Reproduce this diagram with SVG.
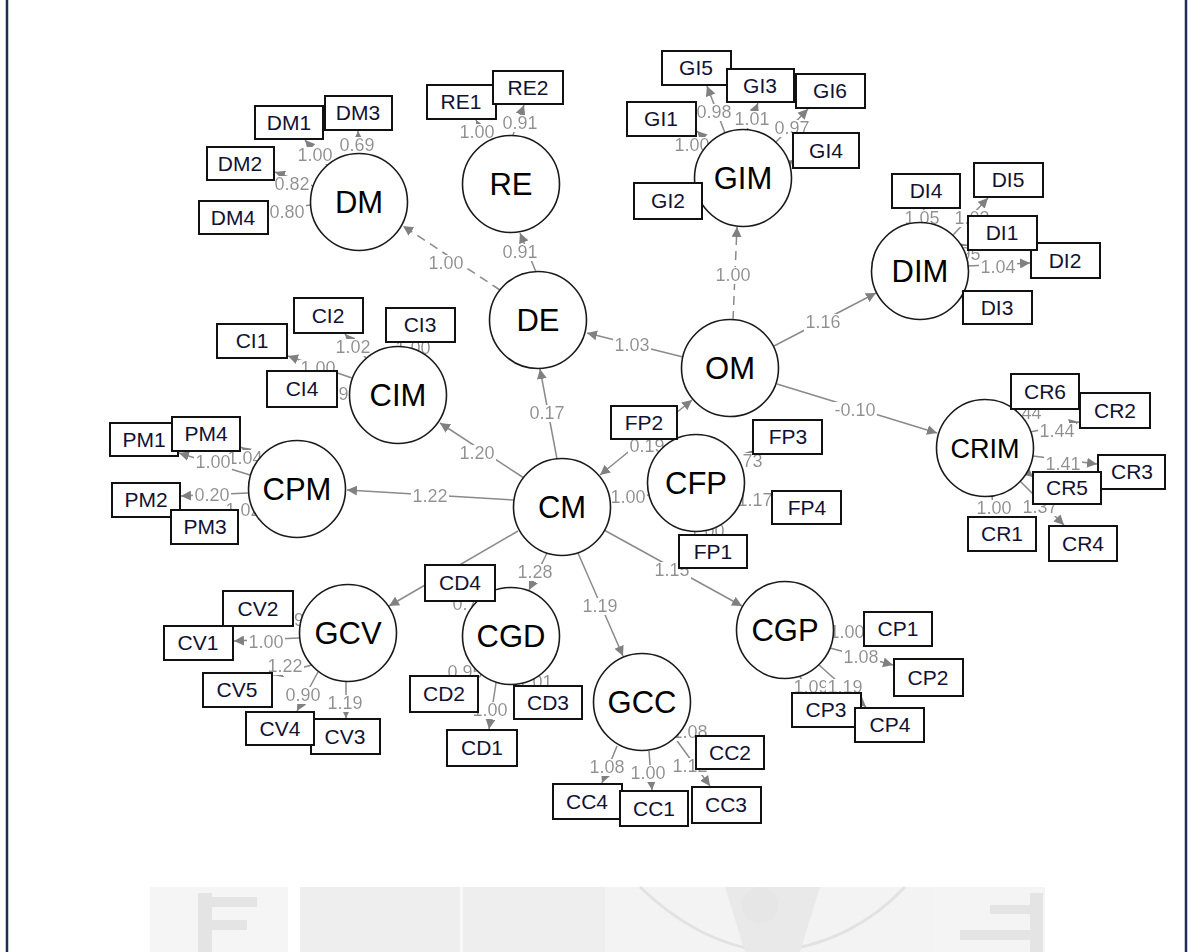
<svg xmlns="http://www.w3.org/2000/svg" width="1192" height="952" viewBox="0 0 1192 952">
  <style>
    .e { stroke: #8a8a8a; stroke-width: 1.5; fill: none; }
    .d { stroke-dasharray: 9 6; }
    .lb { font-family: "Liberation Sans", Arial, sans-serif; font-size: 18px; fill: #8f8f8f; text-anchor: middle; filter: url(#wbg); }
    .lat circle { fill: #ffffff; stroke: #1a1a1a; stroke-width: 1.6; }
    .lat text { font-family: "Liberation Sans", Arial, sans-serif; font-size: 31px; fill: #000000; text-anchor: middle; }
    .obs rect { fill: #ffffff; stroke: #111111; stroke-width: 2; }
    .obs text { font-family: "Liberation Sans", Arial, sans-serif; font-size: 21px; fill: #111133; text-anchor: middle; }
    .wm { fill: #eeeeee; }
    .wm2 { fill: #e4e4e4; }
  </style>
  <defs>
    <marker id="ah" viewBox="0 0 10 10" refX="10" refY="5" markerWidth="10" markerHeight="10" markerUnits="userSpaceOnUse" orient="auto-start-reverse">
      <path d="M0,0 L10,5 L0,10 z" fill="#808080"/>
    </marker>
    <!-- white box behind edge labels -->
    <filter id="wbg" x="-0.03" y="0.12" width="1.06" height="0.8">
      <feFlood flood-color="#ffffff"/>
      <feComposite in="SourceGraphic" operator="over"/>
    </filter>
  </defs>

  <rect x="0" y="0" width="1192" height="952" fill="#ffffff"/>

  <!-- faint crest in the page background -->
  <g id="background-crest">
    <rect x="150" y="887" width="138" height="65" fill="#f5f5f5"/>
    <rect class="wm2" x="198" y="893" width="14" height="59"/>
    <rect class="wm2" x="212" y="897" width="45" height="10"/>
    <rect class="wm2" x="212" y="920" width="35" height="10"/>
    <rect class="wm" x="300" y="887" width="305" height="65"/>
    <rect x="460" y="887" width="3" height="65" fill="#f8f8f8"/>
    <rect x="605" y="887" width="330" height="65" fill="#f3f3f3"/>
    <path d="M640,887 Q700,945 770,952 Q850,945 905,887" fill="none" stroke="#e2e2e2" stroke-width="3"/>
    <path d="M725,887 L745,952 L800,952 L820,887 z" fill="#e9e9e9"/>
    <circle cx="760" cy="905" r="18" fill="#e6e6e6"/>
    <rect x="935" y="887" width="110" height="65" fill="#f4f4f4"/>
    <rect class="wm2" x="1030" y="893" width="13" height="59"/>
    <rect class="wm2" x="990" y="905" width="40" height="9"/>
    <rect class="wm2" x="960" y="930" width="70" height="10"/>
  </g>

  <!-- page frame -->
  <line x1="7" y1="0" x2="7" y2="952" stroke="#1f2d55" stroke-width="2.5"/>
  <line x1="1186" y1="0" x2="1186" y2="952" stroke="#1f2d55" stroke-width="2.5"/>

  <g id="connectors">
    <!-- structural paths -->
    <line class="e" x1="557" y1="459" x2="540" y2="369" marker-end="url(#ah)"/>
    <line class="e" x1="683" y1="357" x2="587" y2="333" marker-end="url(#ah)"/>
    <line class="e d" x1="500" y1="290" x2="403" y2="226" marker-end="url(#ah)"/>
    <line class="e" x1="536" y1="272" x2="520" y2="233" marker-end="url(#ah)"/>
    <line class="e d" x1="733" y1="320" x2="737" y2="227" marker-end="url(#ah)"/>
    <line class="e" x1="774" y1="346" x2="876" y2="293" marker-end="url(#ah)"/>
    <line class="e" x1="777" y1="384" x2="937" y2="433" marker-end="url(#ah)"/>
    <line class="e" x1="600" y1="475" x2="692" y2="400" marker-start="url(#ah)" marker-end="url(#ah)"/>
    <line class="e" x1="610" y1="503" x2="648" y2="495"/>
    <line class="e" x1="524" y1="478" x2="440" y2="423" marker-end="url(#ah)"/>
    <line class="e" x1="514" y1="500" x2="347" y2="490" marker-end="url(#ah)"/>
    <line class="e" x1="518" y1="531" x2="389" y2="606" marker-end="url(#ah)"/>
    <line class="e" x1="547" y1="553" x2="529" y2="590" marker-end="url(#ah)"/>
    <line class="e" x1="578" y1="553" x2="623" y2="656" marker-end="url(#ah)"/>
    <line class="e" x1="604" y1="530" x2="742" y2="606" marker-end="url(#ah)"/>

    <!-- loadings: DM -->
    <line class="e" x1="327" y1="165" x2="305" y2="140" marker-end="url(#ah)"/>
    <line class="e" x1="359" y1="153" x2="358" y2="131" marker-end="url(#ah)"/>
    <line class="e" x1="313" y1="186" x2="275" y2="172" marker-end="url(#ah)"/>
    <line class="e" x1="310" y1="205" x2="269" y2="212" marker-end="url(#ah)"/>
    <!-- RE -->
    <line class="e" x1="487" y1="141" x2="476" y2="120" marker-end="url(#ah)"/>
    <line class="e" x1="513" y1="135" x2="524" y2="105" marker-end="url(#ah)"/>
    <!-- GIM -->
    <line class="e" x1="725" y1="133" x2="707" y2="86" marker-end="url(#ah)"/>
    <line class="e" x1="747" y1="130" x2="758" y2="103" marker-end="url(#ah)"/>
    <line class="e" x1="776" y1="142" x2="808" y2="109" marker-end="url(#ah)"/>
    <line class="e" x1="709" y1="143" x2="697" y2="131" marker-end="url(#ah)"/>
    <line class="e" x1="789" y1="163" x2="794" y2="160" marker-end="url(#ah)"/>
    <!-- DIM -->
    <line class="e" x1="921" y1="222" x2="924" y2="209" marker-end="url(#ah)"/>
    <line class="e" x1="953" y1="235" x2="988" y2="198" marker-end="url(#ah)"/>
    <line class="e" x1="962" y1="247" x2="969" y2="245" marker-end="url(#ah)"/>
    <line class="e" x1="968" y1="266" x2="1030" y2="263" marker-end="url(#ah)"/>
    <line class="e" x1="960" y1="298" x2="970" y2="292" marker-end="url(#ah)"/>
    <!-- CIM -->
    <line class="e" x1="366" y1="358" x2="345" y2="334" marker-end="url(#ah)"/>
    <line class="e" x1="405" y1="346" x2="412" y2="343" marker-end="url(#ah)"/>
    <line class="e" x1="352" y1="378" x2="288" y2="356" marker-end="url(#ah)"/>
    <line class="e" x1="349" y1="392" x2="338" y2="390" marker-end="url(#ah)"/>
    <!-- CPM -->
    <line class="e" x1="250" y1="475" x2="179" y2="453" marker-end="url(#ah)"/>
    <line class="e" x1="258" y1="459" x2="241" y2="447" marker-end="url(#ah)"/>
    <line class="e" x1="248" y1="493" x2="181" y2="496" marker-end="url(#ah)"/>
    <line class="e" x1="253" y1="510" x2="239" y2="514" marker-end="url(#ah)"/>
    <!-- CRIM -->
    <line class="e" x1="1010" y1="406" x2="1030" y2="410" marker-end="url(#ah)"/>
    <line class="e" x1="1030" y1="432" x2="1079" y2="422" marker-end="url(#ah)"/>
    <line class="e" x1="1033" y1="456" x2="1097" y2="464" marker-end="url(#ah)"/>
    <line class="e" x1="1027" y1="472" x2="1033" y2="477" marker-end="url(#ah)"/>
    <line class="e" x1="992" y1="496" x2="994" y2="516" marker-end="url(#ah)"/>
    <line class="e" x1="1020" y1="481" x2="1064" y2="525" marker-end="url(#ah)"/>
    <!-- GCV -->
    <line class="e" x1="302" y1="619" x2="294" y2="620" marker-end="url(#ah)"/>
    <line class="e" x1="299" y1="638" x2="234" y2="641" marker-end="url(#ah)"/>
    <line class="e" x1="312" y1="665" x2="273" y2="675" marker-end="url(#ah)"/>
    <line class="e" x1="318" y1="672" x2="297" y2="711" marker-end="url(#ah)"/>
    <line class="e" x1="346" y1="682" x2="346" y2="718" marker-end="url(#ah)"/>
    <!-- CGD -->
    <line class="e" x1="474" y1="668" x2="470" y2="677" marker-end="url(#ah)"/>
    <line class="e" x1="526" y1="682" x2="530" y2="687" marker-end="url(#ah)"/>
    <line class="e" x1="496" y1="683" x2="489" y2="729" marker-end="url(#ah)"/>
    <!-- GCC -->
    <line class="e" x1="679" y1="733" x2="700" y2="737" marker-end="url(#ah)"/>
    <line class="e" x1="617" y1="746" x2="602" y2="783" marker-end="url(#ah)"/>
    <line class="e" x1="649" y1="751" x2="652" y2="790" marker-end="url(#ah)"/>
    <line class="e" x1="675" y1="738" x2="710" y2="786" marker-end="url(#ah)"/>
    <!-- CGP -->
    <line class="e" x1="834" y1="631" x2="863" y2="630" marker-end="url(#ah)"/>
    <line class="e" x1="830" y1="648" x2="893" y2="665" marker-end="url(#ah)"/>
    <line class="e" x1="800" y1="677" x2="810" y2="692" marker-end="url(#ah)"/>
    <line class="e" x1="819" y1="665" x2="866" y2="707" marker-end="url(#ah)"/>
    <!-- CFP -->
    <line class="e" x1="740" y1="463" x2="754" y2="450" marker-end="url(#ah)"/>
    <line class="e" x1="744" y1="495" x2="771" y2="502" marker-end="url(#ah)"/>
  </g>

  <g id="edge-labels">
    <text class="lb" x="547" y="419">0.17</text>
    <text class="lb" x="632" y="351">1.03</text>
    <text class="lb" x="446" y="269">1.00</text>
    <text class="lb" x="520" y="258">0.91</text>
    <text class="lb" x="733" y="281">1.00</text>
    <text class="lb" x="823" y="328">1.16</text>
    <text class="lb" x="855" y="416">-0.10</text>
    <text class="lb" x="647" y="452">0.19</text>
    <text class="lb" x="628" y="503">1.00</text>
    <text class="lb" x="477" y="459">1.20</text>
    <text class="lb" x="430" y="502">1.22</text>
    <text class="lb" x="535" y="578">1.28</text>
    <text class="lb" x="600" y="612">1.19</text>
    <text class="lb" x="672" y="576">1.15</text>

    <text class="lb" x="315" y="161">1.00</text>
    <text class="lb" x="357" y="151">0.69</text>
    <text class="lb" x="292" y="190">0.82</text>
    <text class="lb" x="287" y="218">0.80</text>

    <text class="lb" x="477" y="138">1.00</text>
    <text class="lb" x="520" y="129">0.91</text>

    <text class="lb" x="714" y="118">0.98</text>
    <text class="lb" x="752" y="125">1.01</text>
    <text class="lb" x="792" y="134">0.97</text>
    <text class="lb" x="692" y="151">1.00</text>

    <text class="lb" x="922" y="224">1.05</text>
    <text class="lb" x="972" y="224">1.03</text>
    <text class="lb" x="963" y="260">0.95</text>
    <text class="lb" x="998" y="273">1.04</text>

    <text class="lb" x="353" y="353">1.02</text>
    <text class="lb" x="413" y="354">1.00</text>
    <text class="lb" x="318" y="374">1.00</text>
    <text class="lb" x="341" y="400">0.99</text>

    <text class="lb" x="245" y="464">1.04</text>
    <text class="lb" x="213" y="468">1.00</text>
    <text class="lb" x="212" y="501">0.20</text>
    <text class="lb" x="243" y="516">1.02</text>

    <text class="lb" x="745" y="467">0.73</text>
    <text class="lb" x="755" y="506">1.17</text>
    <text class="lb" x="707" y="537">1.00</text>

    <text class="lb" x="1024" y="419">1.44</text>
    <text class="lb" x="1057" y="437">1.44</text>
    <text class="lb" x="1063" y="470">1.41</text>
    <text class="lb" x="994" y="514">1.00</text>
    <text class="lb" x="1040" y="513">1.37</text>

    <text class="lb" x="296.5" y="626">0.98</text>
    <text class="lb" x="266" y="648">1.00</text>
    <text class="lb" x="285" y="672">1.22</text>
    <text class="lb" x="303" y="701">0.90</text>
    <text class="lb" x="345" y="709">1.19</text>

    <text class="lb" x="470" y="610">0.79</text>
    <text class="lb" x="465" y="678">0.95</text>
    <text class="lb" x="535" y="688">1.01</text>
    <text class="lb" x="490" y="716">1.00</text>

    <text class="lb" x="690" y="738">1.08</text>
    <text class="lb" x="607" y="773">1.08</text>
    <text class="lb" x="690" y="772">1.12</text>
    <text class="lb" x="648" y="779">1.00</text>

    <text class="lb" x="847" y="638">1.00</text>
    <text class="lb" x="861" y="663">1.08</text>
    <text class="lb" x="811" y="693">1.09</text>
    <text class="lb" x="845" y="693">1.19</text>
  </g>

  <!-- latent variables -->
  <g id="n-DM" class="lat"><circle cx="359" cy="202" r="48.5"/><text x="359" y="213">DM</text></g>
  <g id="n-RE" class="lat"><circle cx="511" cy="184" r="48.5"/><text x="511" y="195">RE</text></g>
  <g id="n-GIM" class="lat"><circle cx="743" cy="178" r="48.5"/><text x="743" y="189">GIM</text></g>
  <g id="n-DIM" class="lat"><circle cx="920" cy="271" r="48.5"/><text x="920" y="282">DIM</text></g>
  <g id="n-DE" class="lat"><circle cx="538" cy="320" r="48.5"/><text x="538" y="331">DE</text></g>
  <g id="n-OM" class="lat"><circle cx="730" cy="368" r="48.5"/><text x="730" y="379">OM</text></g>
  <g id="n-CIM" class="lat"><circle cx="398" cy="395" r="48.5"/><text x="398" y="406">CIM</text></g>
  <g id="n-CPM" class="lat"><circle cx="297" cy="489" r="48.5"/><text x="297" y="500">CPM</text></g>
  <g id="n-CM" class="lat"><circle cx="562" cy="507" r="48.5"/><text x="562" y="518">CM</text></g>
  <g id="n-CFP" class="lat"><circle cx="696" cy="483" r="48.5"/><text x="696" y="494">CFP</text></g>
  <g id="n-CRIM" class="lat"><circle cx="985" cy="448" r="48.5"/><text x="985" y="458" style="font-size:27px">CRIM</text></g>
  <g id="n-GCV" class="lat"><circle cx="348" cy="633" r="48.5"/><text x="348" y="644">GCV</text></g>
  <g id="n-CGD" class="lat"><circle cx="511" cy="636" r="48.5"/><text x="511" y="647">CGD</text></g>
  <g id="n-GCC" class="lat"><circle cx="642" cy="702" r="48.5"/><text x="642" y="713">GCC</text></g>
  <g id="n-CGP" class="lat"><circle cx="785" cy="630" r="48.5"/><text x="785" y="641">CGP</text></g>

  <!-- observed indicators -->
  <g id="n-DM1" class="obs"><rect x="255" y="106" width="68" height="33"/><text x="289" y="130">DM1</text></g>
  <g id="n-DM3" class="obs"><rect x="325" y="96" width="67" height="34"/><text x="358" y="120">DM3</text></g>
  <g id="n-DM2" class="obs"><rect x="207" y="147" width="67" height="33"/><text x="240" y="171">DM2</text></g>
  <g id="n-DM4" class="obs"><rect x="199" y="201" width="69" height="33"/><text x="233" y="225">DM4</text></g>

  <g id="n-RE1" class="obs"><rect x="427" y="85" width="69" height="34"/><text x="461" y="109">RE1</text></g>
  <g id="n-RE2" class="obs"><rect x="493" y="71" width="70" height="33"/><text x="528" y="95">RE2</text></g>

  <g id="n-GI5" class="obs"><rect x="662" y="51" width="69" height="34"/><text x="696" y="75">GI5</text></g>
  <g id="n-GI3" class="obs"><rect x="727" y="69" width="67" height="33"/><text x="760" y="93">GI3</text></g>
  <g id="n-GI6" class="obs"><rect x="796" y="74" width="69" height="34"/><text x="830" y="98">GI6</text></g>
  <g id="n-GI1" class="obs"><rect x="627" y="102" width="69" height="34"/><text x="661" y="126">GI1</text></g>
  <g id="n-GI4" class="obs"><rect x="793" y="133" width="66" height="35"/><text x="826" y="158">GI4</text></g>
  <g id="n-GI2" class="obs"><rect x="634" y="183" width="68" height="36"/><text x="668" y="208">GI2</text></g>

  <g id="n-DI4" class="obs"><rect x="892" y="174" width="68" height="34"/><text x="926" y="198">DI4</text></g>
  <g id="n-DI5" class="obs"><rect x="974" y="163" width="69" height="34"/><text x="1008" y="187">DI5</text></g>
  <g id="n-DI2" class="obs"><rect x="1031" y="243" width="69" height="35"/><text x="1065" y="268">DI2</text></g>
  <g id="n-DI1" class="obs"><rect x="968" y="216" width="69" height="34"/><text x="1002" y="240">DI1</text></g>
  <g id="n-DI3" class="obs"><rect x="963" y="291" width="69" height="33"/><text x="997" y="315">DI3</text></g>

  <g id="n-CI2" class="obs"><rect x="294" y="298" width="69" height="35"/><text x="328" y="323">CI2</text></g>
  <g id="n-CI3" class="obs"><rect x="386" y="308" width="69" height="34"/><text x="420" y="332">CI3</text></g>
  <g id="n-CI1" class="obs"><rect x="217" y="324" width="70" height="34"/><text x="252" y="348">CI1</text></g>
  <g id="n-CI4" class="obs"><rect x="267" y="371" width="70" height="36"/><text x="302" y="396">CI4</text></g>

  <g id="n-PM1" class="obs"><rect x="110" y="423" width="68" height="33"/><text x="144" y="447">PM1</text></g>
  <g id="n-PM4" class="obs"><rect x="172" y="417" width="68" height="34"/><text x="206" y="441">PM4</text></g>
  <g id="n-PM2" class="obs"><rect x="112" y="483" width="68" height="34"/><text x="146" y="507">PM2</text></g>
  <g id="n-PM3" class="obs"><rect x="171" y="510" width="67" height="34"/><text x="205" y="534">PM3</text></g>

  <g id="n-FP2" class="obs"><rect x="611" y="406" width="66" height="33"/><text x="644" y="430">FP2</text></g>
  <g id="n-FP3" class="obs"><rect x="753" y="420" width="69" height="34"/><text x="788" y="444">FP3</text></g>
  <g id="n-FP4" class="obs"><rect x="772" y="491" width="69" height="33"/><text x="807" y="515">FP4</text></g>
  <g id="n-FP1" class="obs"><rect x="679" y="535" width="68" height="33"/><text x="713" y="559">FP1</text></g>

  <g id="n-CR6" class="obs"><rect x="1011" y="374" width="68" height="35"/><text x="1045" y="399">CR6</text></g>
  <g id="n-CR2" class="obs"><rect x="1080" y="393" width="70" height="35"/><text x="1115" y="418">CR2</text></g>
  <g id="n-CR3" class="obs"><rect x="1098" y="455" width="67" height="34"/><text x="1132" y="479">CR3</text></g>
  <g id="n-CR5" class="obs"><rect x="1033" y="472" width="68" height="32"/><text x="1067" y="495">CR5</text></g>
  <g id="n-CR1" class="obs"><rect x="968" y="517" width="68" height="34"/><text x="1002" y="541">CR1</text></g>
  <g id="n-CR4" class="obs"><rect x="1049" y="526" width="68" height="35"/><text x="1083" y="551">CR4</text></g>

  <g id="n-CV2" class="obs"><rect x="223" y="591" width="70" height="35"/><text x="258" y="616">CV2</text></g>
  <g id="n-CV1" class="obs"><rect x="164" y="626" width="69" height="34"/><text x="198" y="650">CV1</text></g>
  <g id="n-CV5" class="obs"><rect x="203" y="673" width="69" height="34"/><text x="237" y="697">CV5</text></g>
  <g id="n-CV3" class="obs"><rect x="311" y="719" width="69" height="35"/><text x="345" y="744">CV3</text></g>
  <g id="n-CV4" class="obs"><rect x="246" y="712" width="68" height="33"/><text x="280" y="736">CV4</text></g>

  <g id="n-CD4" class="obs"><rect x="425" y="565" width="70" height="36"/><text x="460" y="590">CD4</text></g>
  <g id="n-CD2" class="obs"><rect x="410" y="676" width="68" height="36"/><text x="444" y="701">CD2</text></g>
  <g id="n-CD3" class="obs"><rect x="514" y="686" width="68" height="33"/><text x="548" y="710">CD3</text></g>
  <g id="n-CD1" class="obs"><rect x="447" y="730" width="70" height="36"/><text x="482" y="755">CD1</text></g>

  <g id="n-CC2" class="obs"><rect x="696" y="736" width="68" height="33"/><text x="730" y="760">CC2</text></g>
  <g id="n-CC4" class="obs"><rect x="553" y="784" width="69" height="35"/><text x="587" y="809">CC4</text></g>
  <g id="n-CC1" class="obs"><rect x="620" y="791" width="68" height="35"/><text x="654" y="816">CC1</text></g>
  <g id="n-CC3" class="obs"><rect x="692" y="787" width="69" height="36"/><text x="726" y="812">CC3</text></g>

  <g id="n-CP1" class="obs"><rect x="864" y="612" width="68" height="34"/><text x="898" y="636">CP1</text></g>
  <g id="n-CP2" class="obs"><rect x="894" y="659" width="69" height="37"/><text x="928" y="685">CP2</text></g>
  <g id="n-CP3" class="obs"><rect x="792" y="693" width="69" height="34"/><text x="826" y="717">CP3</text></g>
  <g id="n-CP4" class="obs"><rect x="855" y="708" width="69" height="34"/><text x="890" y="732">CP4</text></g>
</svg>
